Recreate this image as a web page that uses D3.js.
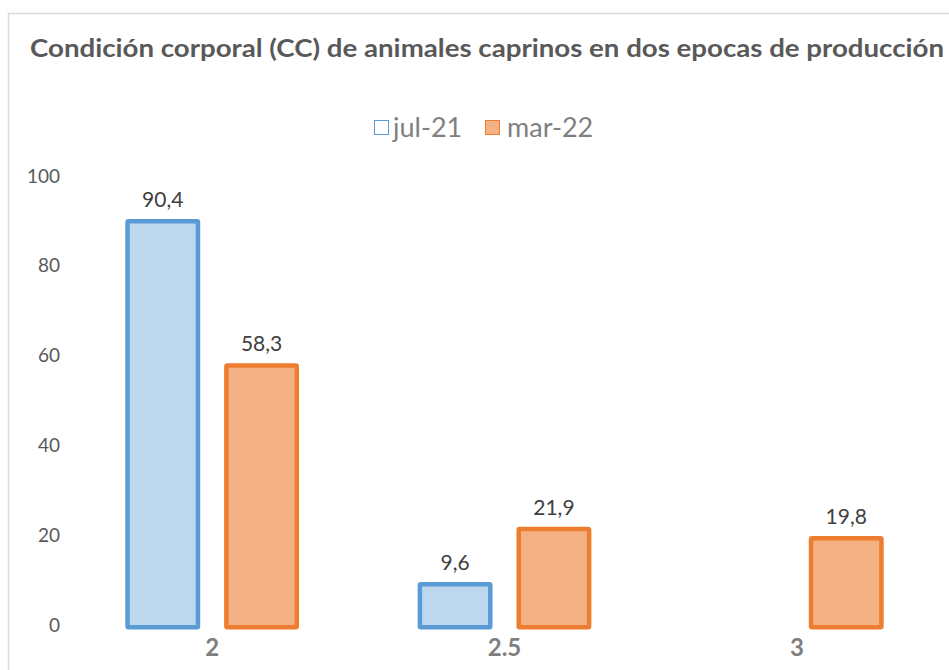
<!DOCTYPE html>
<html><head><meta charset="utf-8">
<script src="https://cdn.jsdelivr.net/npm/d3@7"></script>
<style>body{margin:0;background:#fff;}svg{display:block;font-family:Lato,"Open Sans",sans-serif;}</style>
</head><body>
<svg id="c" width="949" height="670"></svg>
<script>
const categories = ["2", "2.5", "3"];
const seriesNames = ["jul-21", "mar-22"];
const jul21 = [90.4, 9.6, null];
const mar22 = [58.3, 21.9, 19.8];
const yTicks = [0, 20, 40, 60, 80, 100];
const titleText = "Condición corporal (CC) de animales caprinos en dos epocas de producción";

const svg = d3.select("#c");
// frame
svg.append("rect").attr("x", 8.5).attr("y", 13.5).attr("width", 960).attr("height", 700)
  .attr("fill", "none").attr("stroke", "#d9d9d9").attr("stroke-width", 1.5);

svg.append("text").attr("x", 30).attr("y", 57).text(titleText)
  .attr("font-size", 24).attr("font-weight", "bold").attr("fill", "#595959")
  .attr("textLength", 914).attr("lengthAdjust", "spacingAndGlyphs");

const x = d3.scaleBand().domain(categories).range([66, 943]).paddingInner(0).paddingOuter(0);
const y = d3.scaleLinear().domain([0, 100]).range([625, 176]);
const x1 = d3.scaleBand().domain(seriesNames).range([0, x.bandwidth()]).paddingInner(0.242).paddingOuter(0.6);

const styles = {
  "jul-21": {stroke: "#5B9BD5", fill: "#BDD7EE"},
  "mar-22": {stroke: "#ED7D31", fill: "#F4B183"}
};
const series = {"jul-21": jul21, "mar-22": mar22};

// y axis
const yAxis = d3.axisLeft(y).tickValues(yTicks).tickSize(0).tickPadding(0);
const ga = svg.append("g").attr("transform", "translate(60,0)").call(yAxis);
ga.select(".domain").remove();
ga.selectAll("text").attr("font-size", 19).attr("fill", "#595959").attr("font-family", "Lato,'Open Sans',sans-serif");

// x axis
const xAxis = d3.axisBottom(x).tickSize(0).tickPadding(0);
const gx = svg.append("g").attr("transform", "translate(0,639)").call(xAxis);
gx.select(".domain").remove();
gx.selectAll("text").attr("font-size", 24).attr("font-weight", "bold").attr("fill", "#7f7f7f")
  .attr("font-family", "Lato,'Open Sans',sans-serif");

const sw = 4.5;
seriesNames.forEach(s => {
  const vals = series[s];
  const g = svg.append("g");
  const data = categories.map((c, i) => ({c, v: vals[i]})).filter(d => d.v != null);
  g.selectAll("rect").data(data).join("rect")
    .attr("x", d => x(d.c) + x1(s) + sw / 2)
    .attr("width", x1.bandwidth() - sw)
    .attr("y", d => y(d.v) + sw / 2)
    .attr("height", d => y(0) - y(d.v))
    .attr("fill", styles[s].fill).attr("stroke", styles[s].stroke).attr("stroke-width", sw)
    .attr("rx", 1);
  g.selectAll("text").data(data).join("text")
    .attr("x", d => x(d.c) + x1(s) + x1.bandwidth() / 2)
    .attr("y", d => y(d.v) - 12)
    .attr("text-anchor", "middle").attr("font-size", 21).attr("fill", "#404040")
    .text(d => String(d.v).replace(".", ","));
});

// legend
const leg = svg.append("g");
const legItems = [{s: "jul-21", x: 374, tx: 393, empty: true}, {s: "mar-22", x: 485, tx: 507, empty: false}];
legItems.forEach(it => {
  leg.append("rect").attr("x", it.x + 0.5).attr("y", 120.5).attr("width", 14).attr("height", 14)
    .attr("fill", it.empty ? "#fff" : styles[it.s].fill).attr("stroke", styles[it.s].stroke).attr("stroke-width", 1);
  leg.append("text").attr("x", it.tx).attr("y", 137).text(it.s)
    .attr("font-size", 27).attr("fill", "#7f7f7f");
});
</script>
</body></html>
